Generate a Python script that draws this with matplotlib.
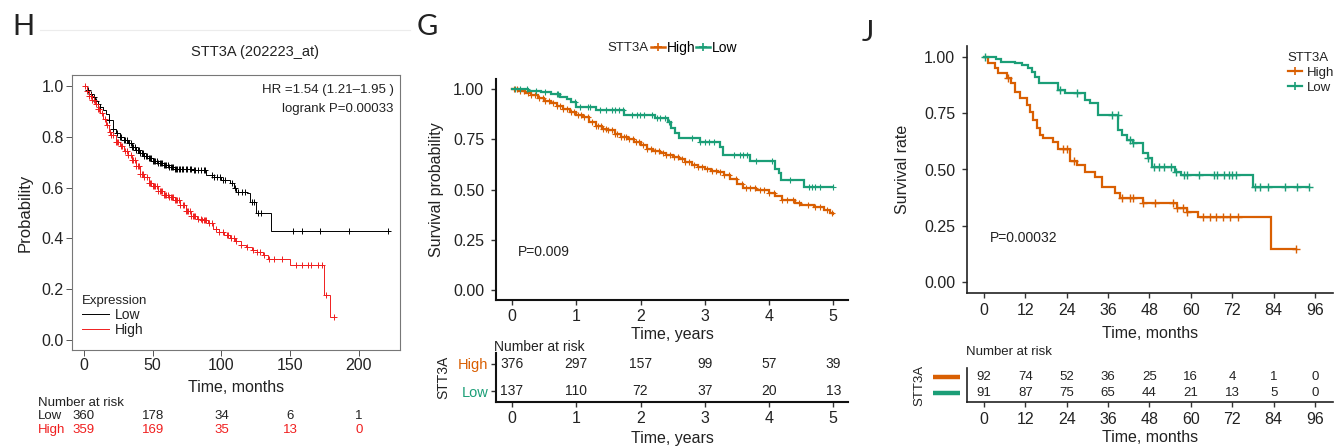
import matplotlib
matplotlib.use('Agg')
import matplotlib.pyplot as plt
import numpy as np
from matplotlib.lines import Line2D
from matplotlib.transforms import blended_transform_factory as btf

plt.rcParams['font.family'] = ['Liberation Sans', 'DejaVu Sans']

# ---------------- data ----------------
# Panel H (KM plotter, months)
H_low_t = [0, 2, 4, 6, 8, 10, 12, 14, 16, 18, 21, 23, 26, 29, 32, 35, 38, 41, 44, 47, 50, 54, 58, 62,
           66, 70, 80, 89, 95, 100, 106, 109, 111, 119, 121, 125, 136, 222]
H_low_s = [1.0, 0.985, 0.97, 0.955, 0.94, 0.93, 0.918, 0.905, 0.89, 0.866, 0.83, 0.815, 0.80, 0.787, 0.775,
           0.76, 0.748, 0.737, 0.726, 0.715, 0.705, 0.695, 0.688, 0.68, 0.675, 0.672, 0.668, 0.648, 0.64,
           0.63, 0.62, 0.60, 0.584, 0.577, 0.545, 0.50, 0.43, 0.43]
H_low_cens = [3, 5, 7, 9, 10, 12, 18, 21, 24, 26, 27, 29, 30, 31, 33, 34, 35, 36, 37, 38, 39, 40, 41, 42,
              43, 44, 45, 46, 47, 48, 49, 50, 51, 52, 53, 54, 55, 56, 57, 58, 59, 60, 61, 62, 63, 64, 65,
              66, 67, 68, 69, 70, 71, 72, 74, 75, 77, 78, 80, 81, 83, 85, 87, 88, 93, 95, 97, 99, 101, 103,
              108, 110, 112, 115, 117, 122, 124, 127, 129, 152, 159, 172, 193, 221]
H_high_t = [0, 2, 4, 6, 8, 10, 12, 14, 16, 18, 20, 23, 26, 29, 32, 35, 38, 41, 44, 47, 50, 54, 58, 62,
            66, 70, 74, 78, 82, 86, 90, 94, 98, 102, 106, 110, 114, 118, 122, 126, 130, 134, 150, 175,
            179, 182]
H_high_s = [1.0, 0.98, 0.96, 0.945, 0.93, 0.91, 0.893, 0.87, 0.845, 0.82, 0.805, 0.78, 0.765, 0.745, 0.73,
            0.71, 0.685, 0.655, 0.64, 0.62, 0.605, 0.585, 0.572, 0.562, 0.55, 0.53, 0.508, 0.49, 0.478,
            0.472, 0.462, 0.438, 0.425, 0.412, 0.403, 0.39, 0.375, 0.365, 0.355, 0.345, 0.335, 0.32, 0.295,
            0.177, 0.089, 0.089]
H_high_cens = [1, 2, 4, 5, 6, 7, 9, 10, 11, 13, 15, 17, 19, 20, 21, 23, 24, 25, 27, 28, 30, 31, 32, 34,
               35, 36, 37, 38, 39, 40, 41, 42, 43, 44, 46, 47, 48, 49, 50, 51, 52, 53, 54, 55, 56, 57, 58,
               59, 60, 61, 62, 63, 64, 65, 66, 67, 68, 69, 70, 72, 73, 74, 75, 76, 77, 78, 79, 80, 81, 83,
               85, 86, 87, 88, 89, 91, 93, 96, 98, 101, 104, 105, 107, 109, 111, 114, 119, 123, 126, 128,
               131, 135, 138, 144, 154, 159, 163, 165, 170, 173, 176, 182]
H_risk_times = [0, 50, 100, 150, 200]
H_risk_low = [360, 178, 34, 6, 1]
H_risk_high = [359, 169, 35, 13, 0]

# Panel G (years)
G_high_t = [0, 0.1, 0.2, 0.3, 0.4, 0.5, 0.6, 0.7, 0.8, 0.9, 1.0, 1.1, 1.2, 1.3, 1.4, 1.5, 1.6, 1.7, 1.8,
            1.9, 2.0, 2.1, 2.2, 2.3, 2.4, 2.5, 2.6, 2.7, 2.8, 2.9, 3.0, 3.1, 3.2, 3.3, 3.4, 3.5, 3.6, 3.8,
            4.0, 4.1, 4.2, 4.4, 4.5, 4.7, 4.85, 4.95, 5.0]
G_high_s = [1.0, 0.99, 0.98, 0.97, 0.955, 0.94, 0.93, 0.915, 0.90, 0.885, 0.871, 0.86, 0.835, 0.815, 0.80,
            0.795, 0.775, 0.76, 0.75, 0.738, 0.72, 0.70, 0.69, 0.68, 0.67, 0.66, 0.65, 0.635, 0.62, 0.61,
            0.60, 0.59, 0.585, 0.57, 0.55, 0.525, 0.505, 0.50, 0.485, 0.47, 0.45, 0.435, 0.423, 0.415,
            0.40, 0.385, 0.38]
G_high_cens = [0.03, 0.08, 0.12, 0.18, 0.25, 0.3, 0.36, 0.42, 0.48, 0.52, 0.58, 0.63, 0.7, 0.75, 0.8,
               0.86, 0.92, 0.97, 1.03, 1.08, 1.12, 1.18, 1.24, 1.3, 1.34, 1.38, 1.42, 1.46, 1.5, 1.55, 1.6,
               1.64, 1.7, 1.74, 1.78, 1.82, 1.88, 1.93, 1.98, 2.04, 2.1, 2.16, 2.22, 2.28, 2.35, 2.4, 2.46,
               2.52, 2.58, 2.64, 2.7, 2.76, 2.84, 2.9, 2.96, 3.04, 3.12, 3.18, 3.24, 3.3, 3.38, 3.48, 3.58,
               3.64, 3.7, 3.78, 3.86, 3.92, 4.0, 4.08, 4.2, 4.28, 4.38, 4.46, 4.6, 4.72, 4.8, 4.9, 4.98]
G_low_t = [0, 0.25, 0.45, 0.6, 0.75, 0.85, 0.92, 1.0, 1.3, 1.75, 2.22, 2.42, 2.47, 2.53, 2.6, 2.93,
           3.24, 3.28, 3.71, 4.1, 4.15, 4.19, 4.54, 5.0]
G_low_s = [1.0, 0.99, 0.985, 0.975, 0.962, 0.95, 0.935, 0.912, 0.896, 0.871, 0.854, 0.837, 0.805, 0.78,
           0.755, 0.738, 0.713, 0.672, 0.64, 0.60, 0.58, 0.545, 0.51, 0.51]
G_low_cens = [0.05, 0.12, 0.23, 0.38, 0.51, 0.70, 0.72, 0.98, 1.06, 1.19, 1.21, 1.37, 1.47, 1.55, 1.60,
              1.66, 1.73, 1.86, 1.94, 1.99, 2.05, 2.18, 2.25, 2.30, 2.38, 2.44, 2.80, 2.93, 3.01, 3.06,
              3.14, 3.45, 3.55, 3.60, 3.66, 3.79, 4.05, 4.33, 4.62, 4.67, 4.72, 4.80, 5.0]
G_risk_times = [0, 1, 2, 3, 4, 5]
G_risk_high = [376, 297, 157, 99, 57, 39]
G_risk_low = [137, 110, 72, 37, 20, 13]

# Panel J (months)
J_high_t = [0, 1.25, 3.2, 4.2, 6.6, 8.0, 9.0, 10.4, 12.4, 13.3, 14.3, 15.3, 16.2, 17.2, 20.1, 21.5,
            25.0, 26.9, 29.3, 32.2, 34.1, 38.0, 39.4, 46.2, 55.9, 58.8, 62.2, 83.1, 90.5]
J_high_s = [1.0, 0.972, 0.95, 0.927, 0.905, 0.883, 0.846, 0.816, 0.787, 0.757, 0.72, 0.683, 0.653, 0.638,
            0.624, 0.592, 0.54, 0.52, 0.49, 0.468, 0.424, 0.394, 0.372, 0.35, 0.327, 0.312, 0.29, 0.145,
            0.145]
J_high_cens = [7.1, 23, 24, 26.2, 39.9, 42.3, 43.3, 46.2, 49.6, 54.9, 55.9, 57.8, 58.8, 63.6, 65.5, 67.4,
               69.3, 71.3, 73.7, 90.5]
J_low_t = [0, 3.5, 5.1, 9.0, 10.9, 12.9, 13.8, 14.8, 16.0, 21.5, 23.5, 29.3, 30.7, 33.0, 39.0, 39.9,
           41.4, 43.3, 46.2, 47.7, 48.6, 55.5, 57.0, 78.1, 94.3]
J_low_s = [1.0, 0.99, 0.979, 0.972, 0.964, 0.95, 0.935, 0.912, 0.883, 0.853, 0.839, 0.809, 0.794, 0.742,
           0.676, 0.653, 0.631, 0.616, 0.572, 0.55, 0.51, 0.49, 0.474, 0.424, 0.424]
J_low_cens = [0.3, 22, 26.9, 37, 38.9, 42.3, 43.3, 47.7, 49.2, 50.7, 52.2, 54.2, 55.6, 58, 59, 62.4, 66.7,
              67.7, 69.6, 71, 72, 73, 78.6, 80, 82.5, 87.4, 90.7, 94.1]
J_risk_times = [0, 12, 24, 36, 48, 60, 72, 84, 96]
J_risk_high = [92, 74, 52, 36, 25, 16, 4, 1, 0]
J_risk_low = [91, 87, 75, 65, 44, 21, 13, 5, 0]

ORANGE = '#D95F02'
GREEN = '#1B9E77'
RED = '#F01E1E'

# ---------------- helpers ----------------
W, HH = 1336, 446
fig = plt.figure(figsize=(13.36, 4.46), dpi=100)


def rect(l, t, r, b):
    return [l / W, 1 - b / HH, (r - l) / W, (b - t) / HH]


def fx(x):
    return x / W


def fy(y):
    return 1 - y / HH


def surv_at(times, surv, pts):
    idx = np.searchsorted(np.asarray(times), np.asarray(pts), side='right') - 1
    idx = np.clip(idx, 0, len(surv) - 1)
    return np.asarray(surv)[idx]


def km(ax, t, s, cens, color, lw, ms, mew):
    ax.step(t, s, where='post', color=color, lw=lw, solid_joinstyle='miter')
    ax.plot(cens, surv_at(t, s, cens), ls='none', marker='+', color=color, ms=ms, mew=mew)


LETTER_FONT = ['Lato', 'DejaVu Sans']
TICK_FS = 11.5

# ================= Panel H =================
fig.text(fx(12), fy(27), 'H', fontsize=21, family=LETTER_FONT, va='center', ha='left', color='#222')
fig.add_artist(Line2D([fx(40), fx(410)], [fy(30), fy(30)], color='#ececec', lw=0.8))
fig.text(fx(255), fy(52), 'STT3A (202223_at)', fontsize=10.5, ha='center', va='center', color='#222')

axH = fig.add_axes(rect(72, 75, 400, 350))
km(axH, H_low_t, H_low_s, H_low_cens, 'black', 0.7, 5, 0.7)
km(axH, H_high_t, H_high_s, H_high_cens, RED, 0.7, 5, 0.7)
axH.set_xlim(-8.7, 230)
axH.set_ylim(-0.039, 1.043)
axH.set_xticks([0, 50, 100, 150, 200])
axH.set_yticks([0.0, 0.2, 0.4, 0.6, 0.8, 1.0])
axH.set_yticklabels(['0.0', '0.2', '0.4', '0.6', '0.8', '1.0'])
axH.tick_params(axis='both', length=4, width=0.7, color='#555', labelsize=TICK_FS, pad=2, labelcolor='#222')
for sp in axH.spines.values():
    sp.set_color('#777')
    sp.set_linewidth(0.8)
axH.set_ylabel('Probability', fontsize=12, va='center', color='#222')
axH.yaxis.set_label_coords((25 - 72) / 328, 0.5)
axH.set_xlabel('Time, months', fontsize=11.5, va='center', color='#222')
axH.xaxis.set_label_coords(0.5, (350 - 388) / 275)
axH.text(0.98, fy(90), 'HR =1.54 (1.21\u20131.95 )', transform=btf(axH.transAxes, fig.transFigure),
         ha='right', va='center', fontsize=9.5, color='#222')
axH.text(0.98, fy(109), 'logrank P=0.00033', transform=btf(axH.transAxes, fig.transFigure),
         ha='right', va='center', fontsize=9.5, color='#222')
legH = axH.legend([Line2D([], [], color='black', lw=0.7), Line2D([], [], color=RED, lw=0.7)],
                  ['Low', 'High'], title='Expression', loc='upper left',
                  bbox_to_anchor=(fx(74), fy(287)), bbox_transform=fig.transFigure, frameon=False,
                  fontsize=10, title_fontsize=9.5, handlelength=1.9, handletextpad=0.45,
                  labelspacing=0.05, alignment='left', borderpad=0.1)
legH.get_title().set_color('#222')
for tx in legH.get_texts():
    tx.set_color('#222')

trH = btf(axH.transData, fig.transFigure)
fig.text(fx(38), fy(403), 'Number at risk', fontsize=9.5, ha='left', va='center', color='#222')
fig.text(fx(38), fy(416), 'Low', fontsize=9.5, ha='left', va='center', color='#222')
fig.text(fx(38), fy(430), 'High', fontsize=9.5, ha='left', va='center', color=RED)
for t, lo, hi in zip(H_risk_times, H_risk_low, H_risk_high):
    axH.text(t, fy(416), str(lo), transform=trH, ha='center', va='center', fontsize=9.5, color='#222')
    axH.text(t, fy(430), str(hi), transform=trH, ha='center', va='center', fontsize=9.5, color=RED)

# ================= Panel G =================
fig.text(fx(417), fy(27), 'G', fontsize=21, family=LETTER_FONT, va='center', ha='left', color='#222')
fig.text(fx(649), fy(48), 'STT3A', fontsize=9.5, ha='right', va='center', color='#222')
fig.legend([Line2D([], [], color=ORANGE, lw=1.8, marker='+', ms=6, mew=1.2),
            Line2D([], [], color=GREEN, lw=1.8, marker='+', ms=6, mew=1.2)],
           ['High', 'Low'], loc='center left', bbox_to_anchor=(fx(651), fy(48)), ncol=2,
           frameon=False, fontsize=10, handlelength=1.0, handletextpad=0.15, columnspacing=0.05,
           borderpad=0, borderaxespad=0)

axG = fig.add_axes(rect(496, 79, 848, 300))
km(axG, G_high_t, G_high_s, G_high_cens, ORANGE, 1.6, 4.5, 0.8)
km(axG, G_low_t, G_low_s, G_low_cens, GREEN, 1.6, 4.5, 0.8)
axG.set_xlim(-0.25, 5.23)
axG.set_ylim(-0.05, 1.05)
axG.set_xticks(G_risk_times)
axG.set_yticks([0, 0.25, 0.5, 0.75, 1.0])
axG.set_yticklabels(['0.00', '0.25', '0.50', '0.75', '1.00'])
for s in ['top', 'right']:
    axG.spines[s].set_visible(False)
for s in ['left', 'bottom']:
    axG.spines[s].set_linewidth(1.5)
    axG.spines[s].set_color('#111')
axG.tick_params(axis='both', length=3.5, width=1, color='#333', labelsize=TICK_FS, labelcolor='#222')
axG.tick_params(axis='y', pad=5)
axG.tick_params(axis='x', pad=3)
axG.set_ylabel('Survival probability', fontsize=11.5, va='center', color='#222')
axG.yaxis.set_label_coords((437 - 496) / 352, 0.5)
axG.set_xlabel('Time, years', fontsize=11.5, va='center', color='#222')
axG.xaxis.set_label_coords(0.5, (300 - 335) / 221)
axG.text(0.09, 0.19, 'P=0.009', fontsize=10, ha='left', va='center', color='#222')

axGr = fig.add_axes(rect(496, 353, 848, 402))
axGr.set_xlim(-0.25, 5.23)
axGr.set_ylim(-0.407, 1.407)
for s in ['top', 'right']:
    axGr.spines[s].set_visible(False)
for s in ['left', 'bottom']:
    axGr.spines[s].set_linewidth(1.5)
    axGr.spines[s].set_color('#111')
axGr.set_xticks(G_risk_times)
axGr.set_yticks([1, 0])
axGr.set_yticklabels(['High', 'Low'])
for lab, c in zip(axGr.get_yticklabels(), [ORANGE, GREEN]):
    lab.set_color(c)
axGr.tick_params(axis='both', length=3.5, width=1, color='#333', labelsize=TICK_FS)
axGr.tick_params(axis='x', labelcolor='#222', pad=3)
axGr.tick_params(axis='y', labelsize=10.5, pad=2)
for t, hi, lo in zip(G_risk_times, G_risk_high, G_risk_low):
    axGr.text(t, 1, str(hi), ha='center', va='center', fontsize=10, color='#222')
    axGr.text(t, 0, str(lo), ha='center', va='center', fontsize=10, color='#222')
axGr.set_ylabel('STT3A', fontsize=10, va='center', color='#222')
axGr.yaxis.set_label_coords((443 - 496) / 352, 0.5)
axGr.set_xlabel('Time, years', fontsize=11.5, va='center', color='#222')
axGr.xaxis.set_label_coords(0.5, (402 - 438) / 49)
fig.text(fx(494), fy(347), 'Number at risk', fontsize=10, ha='left', va='center', color='#222')

# ================= Panel J =================
fig.text(fx(862), fy(33), 'J', fontsize=21, family=LETTER_FONT, va='center', ha='left', color='#222')
axJ = fig.add_axes(rect(967, 46, 1333, 293))
km(axJ, J_high_t, J_high_s, J_high_cens, ORANGE, 1.6, 6, 1.0)
km(axJ, J_low_t, J_low_s, J_low_cens, GREEN, 1.6, 6, 1.0)
axJ.set_xlim(-4.9, 101.2)
axJ.set_ylim(-0.049, 1.049)
axJ.set_xticks(J_risk_times)
axJ.set_yticks([0, 0.25, 0.5, 0.75, 1.0])
axJ.set_yticklabels(['0.00', '0.25', '0.50', '0.75', '1.00'])
for s in ['top', 'right']:
    axJ.spines[s].set_visible(False)
for s in ['left', 'bottom']:
    axJ.spines[s].set_linewidth(1.2)
    axJ.spines[s].set_color('#222')
axJ.tick_params(axis='both', length=3.5, width=1, color='#333', labelsize=TICK_FS, labelcolor='#222')
axJ.tick_params(axis='y', pad=5)
axJ.tick_params(axis='x', pad=4)
axJ.set_ylabel('Survival rate', fontsize=11.5, va='center', color='#222')
axJ.yaxis.set_label_coords((903 - 967) / 366, 0.5)
axJ.set_xlabel('Time, months', fontsize=11.5, va='center', color='#222')
axJ.xaxis.set_label_coords(0.5, (293 - 334) / 247)
axJ.text(1.7, 0.196, 'P=0.00032', fontsize=10, ha='left', va='center', color='#222')
legJ = axJ.legend([Line2D([], [], color=ORANGE, lw=1.6, marker='+', ms=6, mew=1.2),
                   Line2D([], [], color=GREEN, lw=1.6, marker='+', ms=6, mew=1.2)],
                  ['High', 'Low'], title='STT3A', loc='upper left',
                  bbox_to_anchor=(fx(1280), fy(44)), bbox_transform=fig.transFigure, frameon=False,
                  fontsize=9.5, title_fontsize=9.5, handlelength=1.1, handletextpad=0.3,
                  labelspacing=0.2, alignment='left', borderpad=0.1)
legJ.get_title().set_color('#222')
for tx in legJ.get_texts():
    tx.set_color('#222')

axJr = fig.add_axes(rect(967, 368, 1333, 402))
axJr.set_xlim(-4.9, 101.2)
axJr.set_ylim(-0.5625, 1.5625)
for s in ['top', 'right']:
    axJr.spines[s].set_visible(False)
for s in ['left', 'bottom']:
    axJr.spines[s].set_linewidth(1.2)
    axJr.spines[s].set_color('#222')
axJr.set_xticks(J_risk_times)
axJr.set_yticks([])
axJr.tick_params(axis='x', length=3.5, width=1, color='#333', labelsize=TICK_FS, labelcolor='#222', pad=4)
for t, hi, lo in zip(J_risk_times, J_risk_high, J_risk_low):
    axJr.text(t, 1, str(hi), ha='center', va='center', fontsize=9.5, color='#222')
    axJr.text(t, 0, str(lo), ha='center', va='center', fontsize=9.5, color='#222')
trJ = btf(axJr.transAxes, axJr.transData)
x0, x1 = (933 - 967) / 366, (960 - 967) / 366
axJr.add_line(Line2D([x0, x1], [1, 1], transform=trJ, color=ORANGE, lw=3.2, clip_on=False,
                     solid_capstyle='butt'))
axJr.add_line(Line2D([x0, x1], [0, 0], transform=trJ, color=GREEN, lw=3.2, clip_on=False,
                     solid_capstyle='butt'))
axJr.set_ylabel('STT3A', fontsize=9.5, va='center', color='#222')
axJr.yaxis.set_label_coords((919 - 967) / 366, 0.5)
axJr.set_xlabel('Time, months', fontsize=11.5, va='center', color='#222')
axJr.xaxis.set_label_coords(0.5, (402 - 438) / 34)
fig.text(fx(966), fy(352), 'Number at risk', fontsize=9.5, ha='left', va='center', color='#222')

fig.savefig('out.png', dpi=100)
